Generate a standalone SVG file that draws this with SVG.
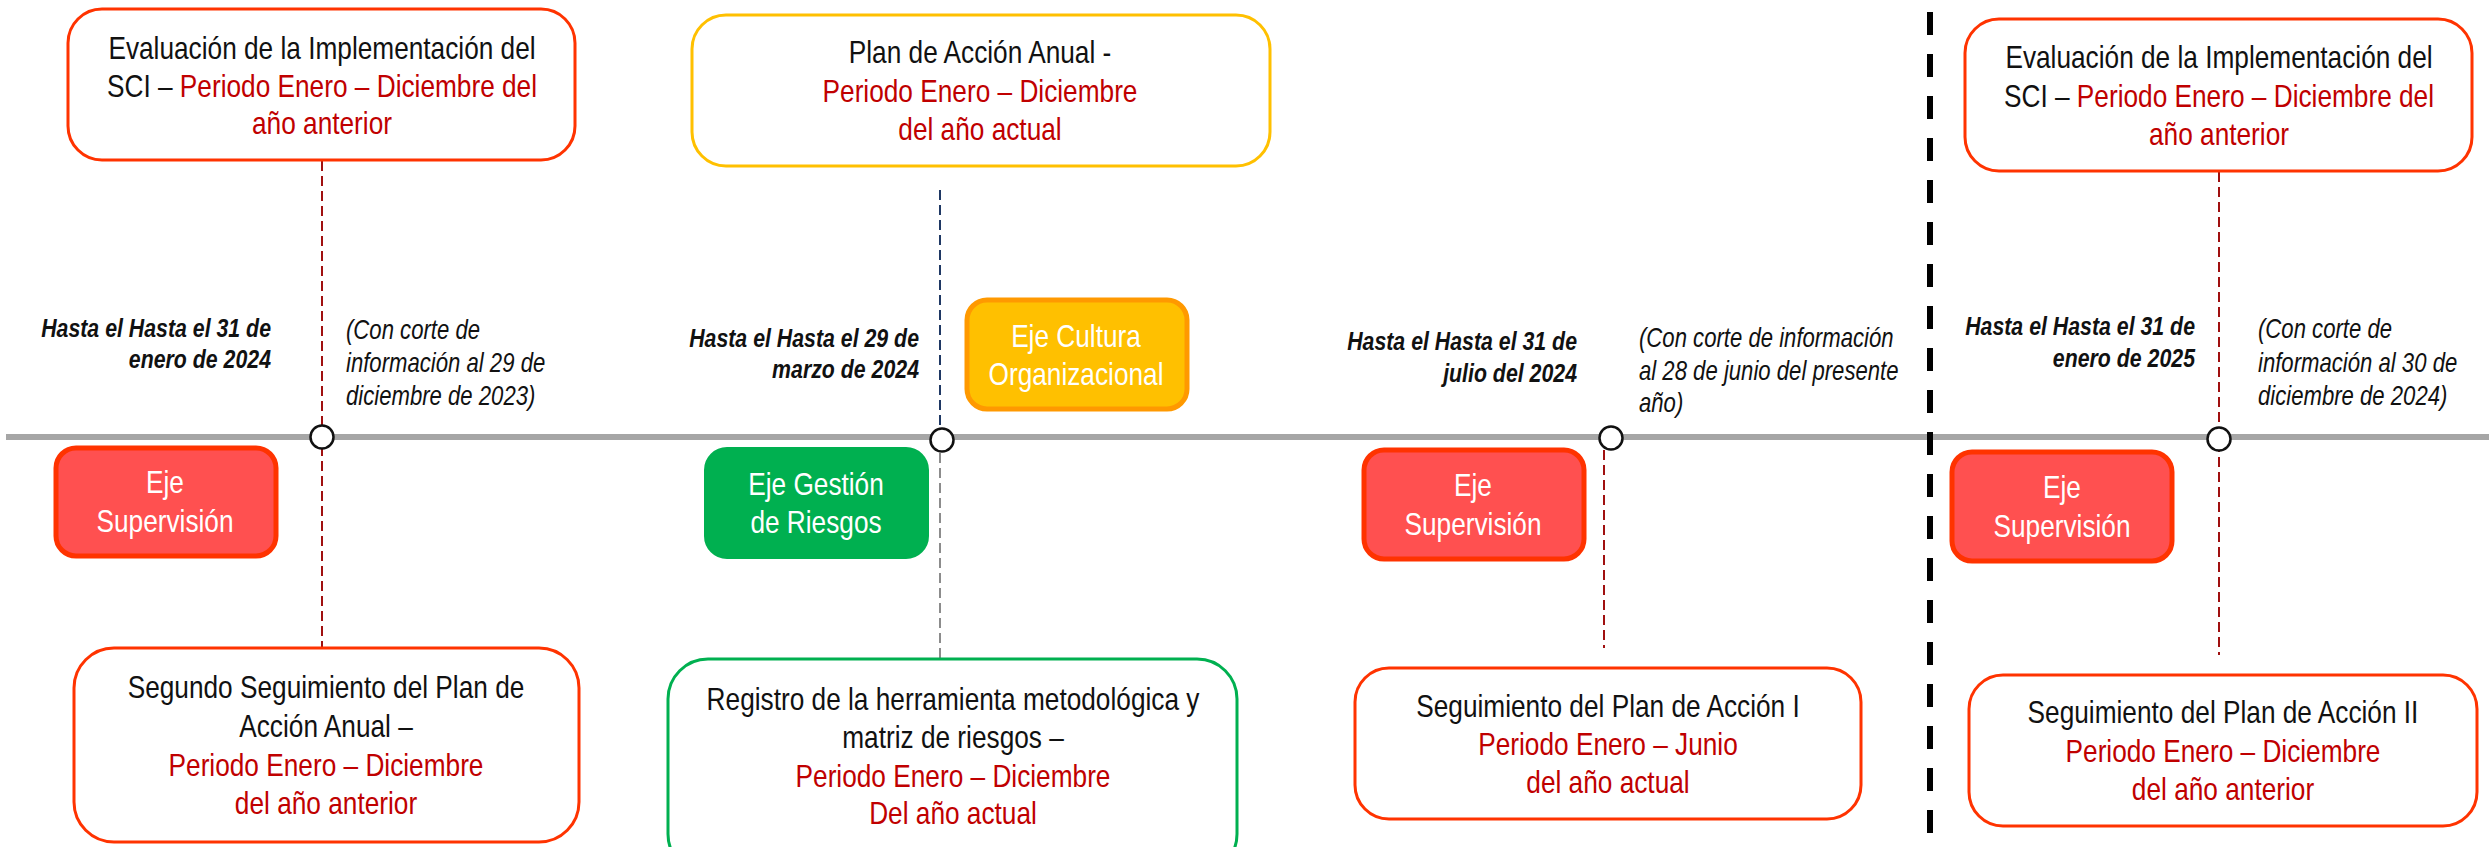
<svg xmlns="http://www.w3.org/2000/svg" width="2489" height="847" viewBox="0 0 2489 847">
<style>
text{font-family:"Liberation Sans",Arial,sans-serif}
.bt{font-size:32px;fill:#111;text-anchor:middle}
.r{fill:#C00000}
.ej{font-size:32px;fill:#fff;text-anchor:middle}
.dt{font-size:26px;font-weight:bold;font-style:italic;fill:#111;text-anchor:end}
.nt{font-size:27px;font-style:italic;fill:#111}
.box{fill:#fff;stroke-width:3}
.sred{stroke:#FF3300}
.sgold{stroke:#FFC000}
.sgreen{stroke:#00B050}
.ejsup{fill:#FF5050;stroke:#FF3300;stroke-width:5}
.ejcul{fill:#FFC000;stroke:#FF9900;stroke-width:5}
.ejges{fill:#00B050;stroke:#00B050;stroke-width:2}
.dash{stroke-width:2;stroke-dasharray:10 5;fill:none}
.ms{fill:#fff;stroke:#111;stroke-width:2.5}
</style>
<rect width="2489" height="847" fill="#fff"/>
<g id="connectors">
<line x1="6" y1="437" x2="2489" y2="437" stroke="#A6A6A6" stroke-width="6"/>
<line class="dash" x1="322" y1="161" x2="322" y2="648" stroke="#A01010"/>
<line class="dash" x1="940" y1="190" x2="940" y2="430" stroke="#1F3864"/>
<line class="dash" x1="940" y1="453" x2="940" y2="658" stroke="#8C8C8C"/>
<line class="dash" x1="1604" y1="450" x2="1604" y2="648" stroke="#A01010"/>
<line class="dash" x1="2219" y1="172" x2="2219" y2="655" stroke="#A01010"/>
<line x1="1930" y1="12" x2="1930" y2="845" stroke="#000" stroke-width="6" stroke-dasharray="23 19"/>
</g>
<g id="milestones">
<circle class="ms" cx="322" cy="437" r="11.5"/>
<circle class="ms" cx="942" cy="440" r="11.5"/>
<circle class="ms" cx="1611" cy="438" r="11.5"/>
<circle class="ms" cx="2219" cy="439" r="11.5"/>
</g>
<g id="eval2024">
<rect class="box sred" x="68" y="9" width="507" height="151" rx="34"/>
<g transform="translate(322 0) scale(0.82 1)">
<text class="bt" x="0" y="59">Evaluación de la Implementación del</text>
<text class="bt" x="0" y="97">SCI – <tspan class="r">Periodo Enero – Diciembre del</tspan></text>
<text class="bt r" x="0" y="134">año anterior</text>
</g>
</g>
<g id="plan">
<rect class="box sgold" x="692" y="15" width="578" height="151" rx="34"/>
<g transform="translate(980 0) scale(0.82 1)">
<text class="bt" x="0" y="63">Plan de Acción Anual -</text>
<text class="bt r" x="0" y="102">Periodo Enero – Diciembre</text>
<text class="bt r" x="0" y="140">del año actual</text>
</g>
</g>
<g id="eval2025">
<rect class="box sred" x="1965" y="19" width="507" height="152" rx="34"/>
<g transform="translate(2219 0) scale(0.82 1)">
<text class="bt" x="0" y="68">Evaluación de la Implementación del</text>
<text class="bt" x="0" y="107">SCI – <tspan class="r">Periodo Enero – Diciembre del</tspan></text>
<text class="bt r" x="0" y="145">año anterior</text>
</g>
</g>
<g id="segundo">
<rect class="box sred" x="74" y="648" width="505" height="194" rx="40"/>
<g transform="translate(326 0) scale(0.82 1)">
<text class="bt" x="0" y="698">Segundo Seguimiento del Plan de</text>
<text class="bt" x="0" y="737">Acción Anual –</text>
<text class="bt r" x="0" y="776">Periodo Enero – Diciembre</text>
<text class="bt r" x="0" y="814">del año anterior</text>
</g>
</g>
<g id="registro">
<rect class="box sgreen" x="668" y="659" width="569" height="215" rx="40"/>
<g transform="translate(953 0) scale(0.82 1)">
<text class="bt" x="0" y="710">Registro de la herramienta metodológica y</text>
<text class="bt" x="0" y="748">matriz de riesgos –</text>
<text class="bt r" x="0" y="787">Periodo Enero – Diciembre</text>
<text class="bt r" x="0" y="824">Del año actual</text>
</g>
</g>
<g id="seguimiento1">
<rect class="box sred" x="1355" y="668" width="506" height="151" rx="34"/>
<g transform="translate(1608 0) scale(0.82 1)">
<text class="bt" x="0" y="717">Seguimiento del Plan de Acción I</text>
<text class="bt r" x="0" y="755">Periodo Enero – Junio</text>
<text class="bt r" x="0" y="793">del año actual</text>
</g>
</g>
<g id="seguimiento2">
<rect class="box sred" x="1969" y="675" width="508" height="151" rx="34"/>
<g transform="translate(2223 0) scale(0.82 1)">
<text class="bt" x="0" y="723">Seguimiento del Plan de Acción II</text>
<text class="bt r" x="0" y="762">Periodo Enero – Diciembre</text>
<text class="bt r" x="0" y="800">del año anterior</text>
</g>
</g>
<g id="ejeSup1">
<rect class="ejsup" x="56" y="448" width="220" height="108" rx="20"/>
<g transform="translate(165 0) scale(0.82 1)">
<text class="ej" x="0" y="493">Eje</text>
<text class="ej" x="0" y="532">Supervisión</text>
</g>
</g>
<g id="ejeCultura">
<rect class="ejcul" x="967" y="300" width="220" height="109" rx="20"/>
<g transform="translate(1076 0) scale(0.82 1)">
<text class="ej" x="0" y="347">Eje Cultura</text>
<text class="ej" x="0" y="385">Organizacional</text>
</g>
</g>
<g id="ejeGestion">
<rect class="ejges" x="705" y="448" width="223" height="110" rx="22"/>
<g transform="translate(816 0) scale(0.82 1)">
<text class="ej" x="0" y="495">Eje Gestión</text>
<text class="ej" x="0" y="533">de Riesgos</text>
</g>
</g>
<g id="ejeSup2">
<rect class="ejsup" x="1364" y="450" width="220" height="109" rx="20"/>
<g transform="translate(1473 0) scale(0.82 1)">
<text class="ej" x="0" y="496">Eje</text>
<text class="ej" x="0" y="535">Supervisión</text>
</g>
</g>
<g id="ejeSup3">
<rect class="ejsup" x="1952" y="452" width="220" height="109" rx="20"/>
<g transform="translate(2062 0) scale(0.82 1)">
<text class="ej" x="0" y="498">Eje</text>
<text class="ej" x="0" y="537">Supervisión</text>
</g>
</g>
<g id="fecha1" transform="translate(271 0) scale(0.82 1)">
<text class="dt" x="0" y="337">Hasta el Hasta el 31 de</text>
<text class="dt" x="0" y="368">enero de 2024</text>
</g>
<g id="corte1" transform="translate(346 0) scale(0.82 1)">
<text class="nt" x="0" y="339">(Con corte de</text>
<text class="nt" x="0" y="372">información al 29 de</text>
<text class="nt" x="0" y="405">diciembre de 2023)</text>
</g>
<g id="fecha2" transform="translate(919 0) scale(0.82 1)">
<text class="dt" x="0" y="347">Hasta el Hasta el 29 de</text>
<text class="dt" x="0" y="378">marzo de 2024</text>
</g>
<g id="fecha3" transform="translate(1577 0) scale(0.82 1)">
<text class="dt" x="0" y="350">Hasta el Hasta el 31 de</text>
<text class="dt" x="0" y="382">julio del 2024</text>
</g>
<g id="corte3" transform="translate(1639 0) scale(0.82 1)">
<text class="nt" x="0" y="347">(Con corte de información</text>
<text class="nt" x="0" y="380">al 28 de junio del presente</text>
<text class="nt" x="0" y="412">año)</text>
</g>
<g id="fecha4" transform="translate(2195 0) scale(0.82 1)">
<text class="dt" x="0" y="335">Hasta el Hasta el 31 de</text>
<text class="dt" x="0" y="367">enero de 2025</text>
</g>
<g id="corte4" transform="translate(2258 0) scale(0.82 1)">
<text class="nt" x="0" y="338">(Con corte de</text>
<text class="nt" x="0" y="372">información al 30 de</text>
<text class="nt" x="0" y="405">diciembre de 2024)</text>
</g>
</svg>
